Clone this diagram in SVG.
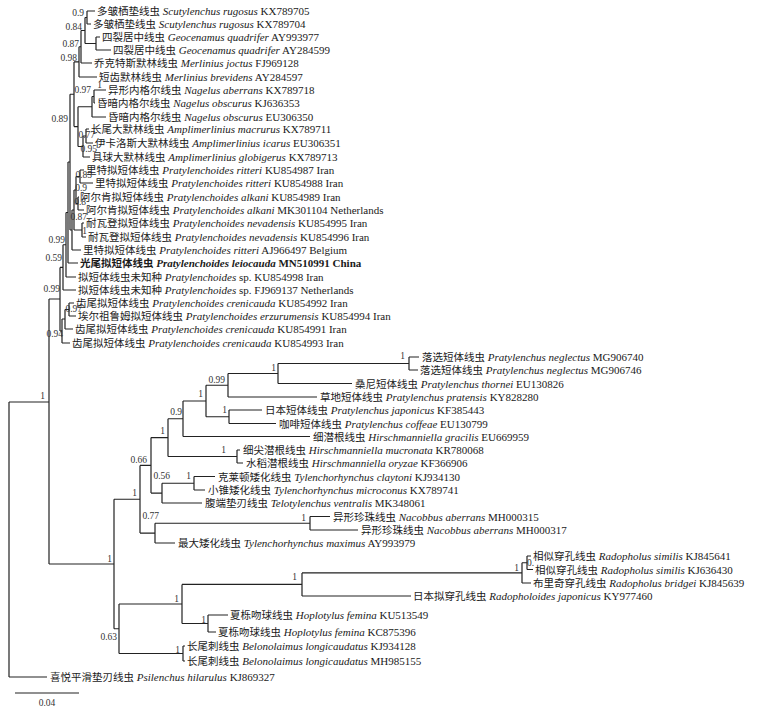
<svg xmlns="http://www.w3.org/2000/svg" width="759" height="711" viewBox="0 0 759 711">
<style>
.t{font-family:"Liberation Serif","Noto Sans CJK SC",serif;font-size:11px;fill:#1a1a1a}
.c{font-family:"Noto Sans CJK SC",sans-serif;font-size:10.5px}
.i{font-style:italic}
.b{font-weight:bold}
.s{font-family:"Liberation Serif",serif;font-size:9.5px;fill:#333;text-anchor:end}
.m{text-anchor:middle}
.br{fill:none;stroke:#222;stroke-width:1.2}
</style>
<rect width="759" height="711" fill="#fff"/>
<g id="connectors">
<path class="br" d="M87,11V24M87,11H95M87,24H91M96,37V50M96,37H100M96,50H111M85,17.5V43.5M85,17.5H87M85,43.5H96M81,30.5V63M81,30.5H85M81,63H92M79,46.75V77M79,46.75H81M79,77H97M94,90V103M94,90H106M94,103H95M92,96.5V117M92,96.5H94M92,117H106M86,129V143M86,129H89M86,143H93M83,136V157M83,136H86M83,157H90M78,106.75V146.5M78,106.75H92M78,146.5H83M74,61.9V126.6M74,61.9H79M74,126.6H78"/>
<path class="br" d="M80,170V183M80,170H84M80,183H93M78,197V210M78,197H79M78,210H84M76,176.5V203.5M76,176.5H80M76,203.5H78M82,223V237M82,223H84M82,237H86M74,190V230M74,190H76M74,230H82M72,210V250M72,210H74M72,250H81M70,94.25V230M70,94.25H74M70,230H72M68,162V263M68,162H70M68,263H78M66,212.5V277M66,212.5H68M66,277H76M63,244.75V290M63,244.75H66M63,290H76M69,303V316M69,303H74M69,316H76M65,309.5V329M65,309.5H69M65,329H73M62,319V343M62,319H65M62,343H70M60,267.4V331M60,267.4H63M60,331H62M49,299V564M49,299H60M49,564H114M9,402V677M9,402H49M9,677H47"/>
<path class="br" d="M409,357V370M409,357H419M409,370H418M278,363.5V383.5M278,363.5H409M278,383.5H352M228,373.5V397M228,373.5H278M228,397H317M229,410V423.5M229,410H262M229,423.5H276M206,385.25V416.75M206,385.25H228M206,416.75H229M183,401V436.5M183,401H206M183,436.5H310M237,450V463M237,450H240M237,463H243M168,418.75V456.5M168,418.75H183M168,456.5H237M194,476.5V490M194,476.5H215M194,490H205M162,483.25V503M162,483.25H194M162,503H202M151,437.6V493.1M151,437.6H168M151,493.1H162M310,516.5V530M310,516.5H330M310,530H358M155,523.25V543M155,523.25H310M155,543H175M140,465.4V533.1M140,465.4H151M140,533.1H155"/>
<path class="br" d="M527,556V569.5M527,556H531M527,569.5H533M522,562.75V583M522,562.75H527M522,583H531M302,572.9V596M302,572.9H522M302,596H411M208,615V632M208,615H228M208,632H216M182,584.4V623.5M182,584.4H302M182,623.5H208M183,646V661M183,646H185M183,661H185M119,604V653.5M119,604H182M119,653.5H183M114,499.25V628.75M114,499.25H140M114,628.75H119"/>
<path class="br" d="M15,693H79"/>
</g>
<g id="support">
<text class="s" x="84" y="16">0.9</text>
<text class="s" x="82" y="29.5">0.84</text>
<text class="s" x="79" y="46.5">0.87</text>
<text class="s" x="77" y="60.5">0.98</text>
<text class="s" x="102" y="88">1</text>
<text class="s" x="91" y="93">0.97</text>
<text class="s" x="68" y="121.5">0.89</text>
<text class="s" x="95" y="138">0.77</text>
<text class="s" x="97" y="152">0.95</text>
<text class="s" x="92" y="178">0.85</text>
<text class="s" x="87" y="191">0.9</text>
<text class="s" x="86" y="205">0.8</text>
<text class="s" x="87" y="220">0.87</text>
<text class="s" x="87" y="233.5">1</text>
<text class="s" x="65" y="242.5">0.99</text>
<text class="s" x="62" y="260.5">0.59</text>
<text class="s" x="60" y="291.5">0.99</text>
<text class="s" x="82" y="312">0.97</text>
<text class="s" x="63" y="336.5">0.94</text>
<text class="s" x="45" y="399">1</text>
<text class="s" x="405" y="359">1</text>
<text class="s" x="276" y="371">1</text>
<text class="s" x="225" y="383">0.99</text>
<text class="s" x="203" y="397">1</text>
<text class="s" x="227" y="413">1</text>
<text class="s" x="182" y="415">0.9</text>
<text class="s" x="165" y="434">1</text>
<text class="s" x="226" y="453">1</text>
<text class="s" x="147" y="463">0.66</text>
<text class="s" x="170" y="479">0.56</text>
<text class="s" x="191" y="479">1</text>
<text class="s" x="137" y="496">1</text>
<text class="s" x="159" y="519">0.77</text>
<text class="s" x="306" y="521">1</text>
<text class="s" x="112" y="562">1</text>
<text class="s" x="297" y="580">1</text>
<text class="s" x="519" y="571">1</text>
<text class="s" x="534" y="566">0.</text>
<text class="s" x="179" y="602">1</text>
<text class="s" x="206" y="623">1</text>
<text class="s" x="117" y="640">0.63</text>
<text class="s" x="180" y="653">1</text>
<text class="s m" x="47" y="706">0.04</text>
</g>
<g id="n1"><text class="t" x="97" y="15"><tspan class="c">多皱栖垫线虫</tspan> <tspan class="i">Scutylenchus rugosus</tspan> KX789705</text></g>
<g id="n2"><text class="t" x="93" y="28"><tspan class="c">多皱栖垫线虫</tspan> <tspan class="i">Scutylenchus rugosus</tspan> KX789704</text></g>
<g id="n3"><text class="t" x="102" y="41"><tspan class="c">四裂居中线虫</tspan> <tspan class="i">Geocenamus quadrifer</tspan> AY993977</text></g>
<g id="n4"><text class="t" x="113" y="54"><tspan class="c">四裂居中线虫</tspan> <tspan class="i">Geocenamus quadrifer</tspan> AY284599</text></g>
<g id="n5"><text class="t" x="94" y="67"><tspan class="c">乔克特斯默林线虫</tspan> <tspan class="i">Merlinius joctus</tspan> FJ969128</text></g>
<g id="n6"><text class="t" x="99" y="81"><tspan class="c">短齿默林线虫</tspan> <tspan class="i">Merlinius brevidens</tspan> AY284597</text></g>
<g id="n7"><text class="t" x="108" y="94"><tspan class="c">异形内格尔线虫</tspan> <tspan class="i">Nagelus aberrans</tspan> KX789718</text></g>
<g id="n8"><text class="t" x="97" y="107"><tspan class="c">昏暗内格尔线虫</tspan> <tspan class="i">Nagelus obscurus</tspan> KJ636353</text></g>
<g id="n9"><text class="t" x="108" y="121"><tspan class="c">昏暗内格尔线虫</tspan> <tspan class="i">Nagelus obscurus</tspan> EU306350</text></g>
<g id="n10"><text class="t" x="91" y="133"><tspan class="c">长尾大默林线虫</tspan> <tspan class="i">Amplimerlinius macrurus</tspan> KX789711</text></g>
<g id="n11"><text class="t" x="95" y="147"><tspan class="c">伊卡洛斯大默林线虫</tspan> <tspan class="i">Amplimerlinius icarus</tspan> EU306351</text></g>
<g id="n12"><text class="t" x="92" y="161"><tspan class="c">具球大默林线虫</tspan> <tspan class="i">Amplimerlinius globigerus</tspan> KX789713</text></g>
<g id="n13"><text class="t" x="86" y="174"><tspan class="c">里特拟短体线虫</tspan> <tspan class="i">Pratylenchoides ritteri</tspan> KU854987 Iran</text></g>
<g id="n14"><text class="t" x="95" y="187"><tspan class="c">里特拟短体线虫</tspan> <tspan class="i">Pratylenchoides ritteri</tspan> KU854988 Iran</text></g>
<g id="n15"><text class="t" x="80" y="201"><tspan class="c">阿尔肯拟短体线虫</tspan> <tspan class="i">Pratylenchoides alkani</tspan> KU854989 Iran</text></g>
<g id="n16"><text class="t" x="86" y="214"><tspan class="c">阿尔肯拟短体线虫</tspan> <tspan class="i">Pratylenchoides alkani</tspan> MK301104 Netherlands</text></g>
<g id="n17"><text class="t" x="86" y="227"><tspan class="c">耐瓦登拟短体线虫</tspan> <tspan class="i">Pratylenchoides nevadensis</tspan> KU854995 Iran</text></g>
<g id="n18"><text class="t" x="88" y="241"><tspan class="c">耐瓦登拟短体线虫</tspan> <tspan class="i">Pratylenchoides nevadensis</tspan> KU854996 Iran</text></g>
<g id="n19"><text class="t" x="83" y="254"><tspan class="c">里特拟短体线虫</tspan> <tspan class="i">Pratylenchoides ritteri</tspan> AJ966497 Belgium</text></g>
<g id="n20"><text class="t b" x="80" y="267"><tspan class="c">光尾拟短体线虫</tspan> <tspan class="i">Pratylenchoides leiocauda</tspan> MN510991 China</text></g>
<g id="n21"><text class="t" x="78" y="281"><tspan class="c">拟短体线虫未知种</tspan> <tspan class="i">Pratylenchoides</tspan> sp. KU854998 Iran</text></g>
<g id="n22"><text class="t" x="78" y="294"><tspan class="c">拟短体线虫未知种</tspan> <tspan class="i">Pratylenchoides</tspan> sp. FJ969137 Netherlands</text></g>
<g id="n23"><text class="t" x="76" y="307"><tspan class="c">齿尾拟短体线虫</tspan> <tspan class="i">Pratylenchoides crenicauda</tspan> KU854992 Iran</text></g>
<g id="n24"><text class="t" x="78" y="320"><tspan class="c">埃尔祖鲁姆拟短体线虫</tspan> <tspan class="i">Pratylenchoides erzurumensis</tspan> KU854994 Iran</text></g>
<g id="n25"><text class="t" x="75" y="333"><tspan class="c">齿尾拟短体线虫</tspan> <tspan class="i">Pratylenchoides crenicauda</tspan> KU854991 Iran</text></g>
<g id="n26"><text class="t" x="72" y="347"><tspan class="c">齿尾拟短体线虫</tspan> <tspan class="i">Pratylenchoides crenicauda</tspan> KU854993 Iran</text></g>
<g id="n27"><text class="t" x="422" y="361"><tspan class="c">落选短体线虫</tspan> <tspan class="i">Pratylenchus neglectus</tspan> MG906740</text></g>
<g id="n28"><text class="t" x="420" y="374"><tspan class="c">落选短体线虫</tspan> <tspan class="i">Pratylenchus neglectus</tspan> MG906746</text></g>
<g id="n29"><text class="t" x="355" y="387.5"><tspan class="c">桑尼短体线虫</tspan> <tspan class="i">Pratylenchus thornei</tspan> EU130826</text></g>
<g id="n30"><text class="t" x="320" y="401"><tspan class="c">草地短体线虫</tspan> <tspan class="i">Pratylenchus pratensis</tspan> KY828280</text></g>
<g id="n31"><text class="t" x="265" y="414"><tspan class="c">日本短体线虫</tspan> <tspan class="i">Pratylenchus japonicus</tspan> KF385443</text></g>
<g id="n32"><text class="t" x="279" y="427.5"><tspan class="c">咖啡短体线虫</tspan> <tspan class="i">Pratylenchus coffeae</tspan> EU130799</text></g>
<g id="n33"><text class="t" x="313" y="440.5"><tspan class="c">细潜根线虫</tspan> <tspan class="i">Hirschmanniella gracilis</tspan> EU669959</text></g>
<g id="n34"><text class="t" x="243" y="454"><tspan class="c">细尖潜根线虫</tspan> <tspan class="i">Hirschmanniella mucronata</tspan> KR780068</text></g>
<g id="n35"><text class="t" x="246" y="467"><tspan class="c">水稻潜根线虫</tspan> <tspan class="i">Hirschmanniella oryzae</tspan> KF366906</text></g>
<g id="n36"><text class="t" x="218" y="480.5"><tspan class="c">克莱顿矮化线虫</tspan> <tspan class="i">Tylenchorhynchus claytoni</tspan> KJ934130</text></g>
<g id="n37"><text class="t" x="208" y="494"><tspan class="c">小锥矮化线虫</tspan> <tspan class="i">Tylenchorhynchus microconus</tspan> KX789741</text></g>
<g id="n38"><text class="t" x="205" y="507"><tspan class="c">腹端垫刃线虫</tspan> <tspan class="i">Telotylenchus ventralis</tspan> MK348061</text></g>
<g id="n39"><text class="t" x="333" y="520.5"><tspan class="c">异形珍珠线虫</tspan> <tspan class="i">Nacobbus aberrans</tspan> MH000315</text></g>
<g id="n40"><text class="t" x="361" y="534"><tspan class="c">异形珍珠线虫</tspan> <tspan class="i">Nacobbus aberrans</tspan> MH000317</text></g>
<g id="n41"><text class="t" x="178" y="547"><tspan class="c">最大矮化线虫</tspan> <tspan class="i">Tylenchorhynchus maximus</tspan> AY993979</text></g>
<g id="n42"><text class="t" x="533" y="560"><tspan class="c">相似穿孔线虫</tspan> <tspan class="i">Radopholus similis</tspan> KJ845641</text></g>
<g id="n43"><text class="t" x="535" y="573.5"><tspan class="c">相似穿孔线虫</tspan> <tspan class="i">Radopholus similis</tspan> KJ636430</text></g>
<g id="n44"><text class="t" x="533" y="587"><tspan class="c">布里奇穿孔线虫</tspan> <tspan class="i">Radopholus bridgei</tspan> KJ845639</text></g>
<g id="n45"><text class="t" x="413" y="600"><tspan class="c">日本拟穿孔线虫</tspan> <tspan class="i">Radopholoides japonicus</tspan> KY977460</text></g>
<g id="n46"><text class="t" x="230" y="619"><tspan class="c">夏栎吻球线虫</tspan> <tspan class="i">Hoplotylus femina</tspan> KU513549</text></g>
<g id="n47"><text class="t" x="218" y="636"><tspan class="c">夏栎吻球线虫</tspan> <tspan class="i">Hoplotylus femina</tspan> KC875396</text></g>
<g id="n48"><text class="t" x="187" y="650"><tspan class="c">长尾刺线虫</tspan> <tspan class="i">Belonolaimus longicaudatus</tspan> KJ934128</text></g>
<g id="n49"><text class="t" x="187" y="665"><tspan class="c">长尾刺线虫</tspan> <tspan class="i">Belonolaimus longicaudatus</tspan> MH985155</text></g>
<g id="n50"><text class="t" x="50" y="681"><tspan class="c">喜悦平滑垫刃线虫</tspan> <tspan class="i">Psilenchus hilarulus</tspan> KJ869327</text></g>
</svg>
